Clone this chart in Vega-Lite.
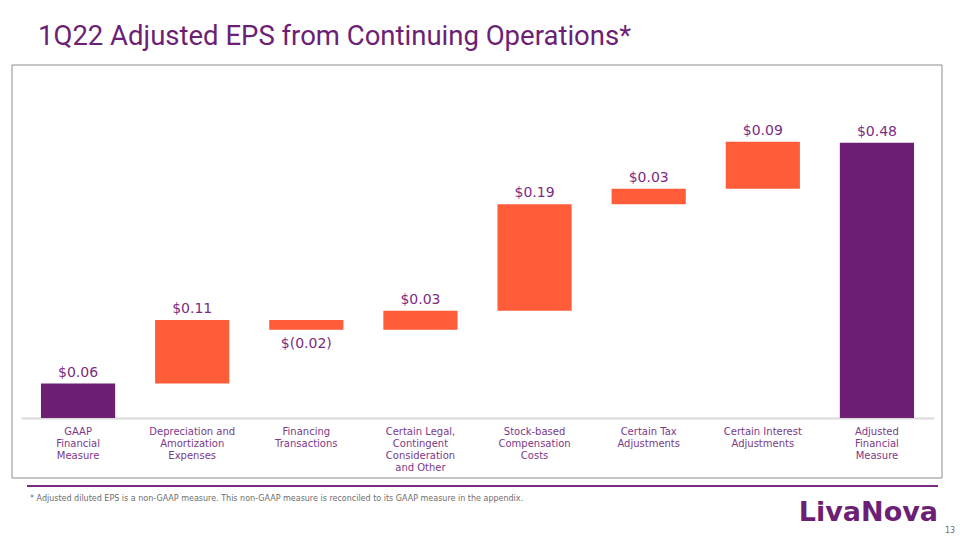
{
  "$schema": "https://vega.github.io/schema/vega-lite/v6.json",
  "width": 913,
  "height": 344,
  "autosize": "none",
  "padding": {"left": 21, "top": 74, "right": 26, "bottom": 122},
  "background": "white",
  "config": {"view": {"stroke": null}},
  "data": {
    "values": [
      {"category": "GAAP|Financial|Measure", "start": 0, "end": 0.06, "label": "$0.06", "kind": "total", "dir": "up"},
      {"category": "Depreciation and|Amortization|Expenses", "start": 0.06, "end": 0.171, "label": "$0.11", "kind": "change", "dir": "up"},
      {"category": "Financing|Transactions", "start": 0.171, "end": 0.154, "label": "$(0.02)", "kind": "change", "dir": "down"},
      {"category": "Certain Legal,|Contingent|Consideration|and Other", "start": 0.154, "end": 0.187, "label": "$0.03", "kind": "change", "dir": "up"},
      {"category": "Stock-based|Compensation|Costs", "start": 0.187, "end": 0.373, "label": "$0.19", "kind": "change", "dir": "up"},
      {"category": "Certain Tax|Adjustments", "start": 0.373, "end": 0.4, "label": "$0.03", "kind": "change", "dir": "up"},
      {"category": "Certain Interest|Adjustments", "start": 0.4, "end": 0.482, "label": "$0.09", "kind": "change", "dir": "up"},
      {"category": "Adjusted|Financial|Measure", "start": 0, "end": 0.48, "label": "$0.48", "kind": "total", "dir": "up"}
    ]
  },
  "encoding": {
    "x": {
      "field": "category",
      "type": "nominal",
      "sort": null,
      "scale": {"paddingInner": 0.35, "paddingOuter": 0.175},
      "axis": {
        "title": null,
        "labelAngle": 0,
        "labelExpr": "split(datum.label, '|')",
        "labelFont": "DejaVu Sans",
        "labelFontSize": 10,
        "labelLineHeight": 12,
        "labelColor": "#7B3A88",
        "labelPadding": 8,
        "labelBaseline": "top",
        "ticks": false,
        "domainColor": "#DADADA",
        "domainWidth": 2,
        "labelLimit": 200
      }
    }
  },
  "layer": [
    {
      "mark": {"type": "rect", "filled": false, "stroke": "#8C8C8C", "strokeWidth": 1},
      "data": {"values": [{"k": "frame"}]},
      "encoding": {
        "x": {"value": -9},
        "x2": {"value": 921},
        "y": {"value": -9},
        "y2": {"value": 404}
      }
    },
    {
      "mark": {"type": "bar"},
      "encoding": {
        "y": {"field": "start", "type": "quantitative", "scale": {"domain": [0, 0.6]}, "axis": null},
        "y2": {"field": "end"},
        "color": {
          "field": "kind",
          "type": "nominal",
          "scale": {"domain": ["total", "change"], "range": ["#6C1F74", "#FF5C39"]},
          "legend": null
        }
      }
    },
    {
      "transform": [{"filter": "datum.dir == 'up'"}],
      "mark": {"type": "text", "baseline": "bottom", "dy": -4, "font": "DejaVu Sans", "fontSize": 14, "color": "#7B2C82"},
      "encoding": {
        "y": {"field": "end", "type": "quantitative"},
        "text": {"field": "label"}
      }
    },
    {
      "transform": [{"filter": "datum.dir == 'down'"}],
      "mark": {"type": "text", "baseline": "top", "dy": 7, "font": "DejaVu Sans", "fontSize": 14, "color": "#7B2C82"},
      "encoding": {
        "y": {"field": "end", "type": "quantitative"},
        "text": {"field": "label"}
      }
    },
    {
      "data": {"values": [{"t": "1Q22 Adjusted EPS from Continuing Operations*"}]},
      "mark": {"type": "text", "align": "left", "baseline": "alphabetic", "font": "Liberation Sans Narrow, Roboto, sans-serif", "fontSize": 27.5, "color": "#6C1F74"},
      "encoding": {"x": {"value": 17}, "y": {"value": -29}, "text": {"field": "t"}}
    },
    {
      "data": {"values": [{"k": "line"}]},
      "mark": {"type": "rule", "color": "#7B2C82", "strokeWidth": 2},
      "encoding": {"x": {"value": 6}, "x2": {"value": 917}, "y": {"value": 412}}
    },
    {
      "data": {"values": [{"t": "* Adjusted diluted EPS is a non-GAAP measure. This non-GAAP measure is reconciled to its GAAP measure in the appendix."}]},
      "mark": {"type": "text", "align": "left", "baseline": "middle", "font": "DejaVu Sans", "fontSize": 8, "color": "#6E6E6E"},
      "encoding": {"x": {"value": 9}, "y": {"value": 425}, "text": {"field": "t"}}
    },
    {
      "data": {"values": [{"t": "LivaNova"}]},
      "mark": {"type": "text", "align": "right", "baseline": "alphabetic", "font": "DejaVu Sans", "fontWeight": "bold", "fontSize": 27, "color": "#6C1F74"},
      "encoding": {"x": {"value": 917}, "y": {"value": 447}, "text": {"field": "t"}}
    },
    {
      "data": {"values": [{"t": "13"}]},
      "mark": {"type": "text", "align": "center", "baseline": "middle", "font": "DejaVu Sans", "fontSize": 8, "color": "#6E6E6E"},
      "encoding": {"x": {"value": 929}, "y": {"value": 457}, "text": {"field": "t"}}
    }
  ]
}
